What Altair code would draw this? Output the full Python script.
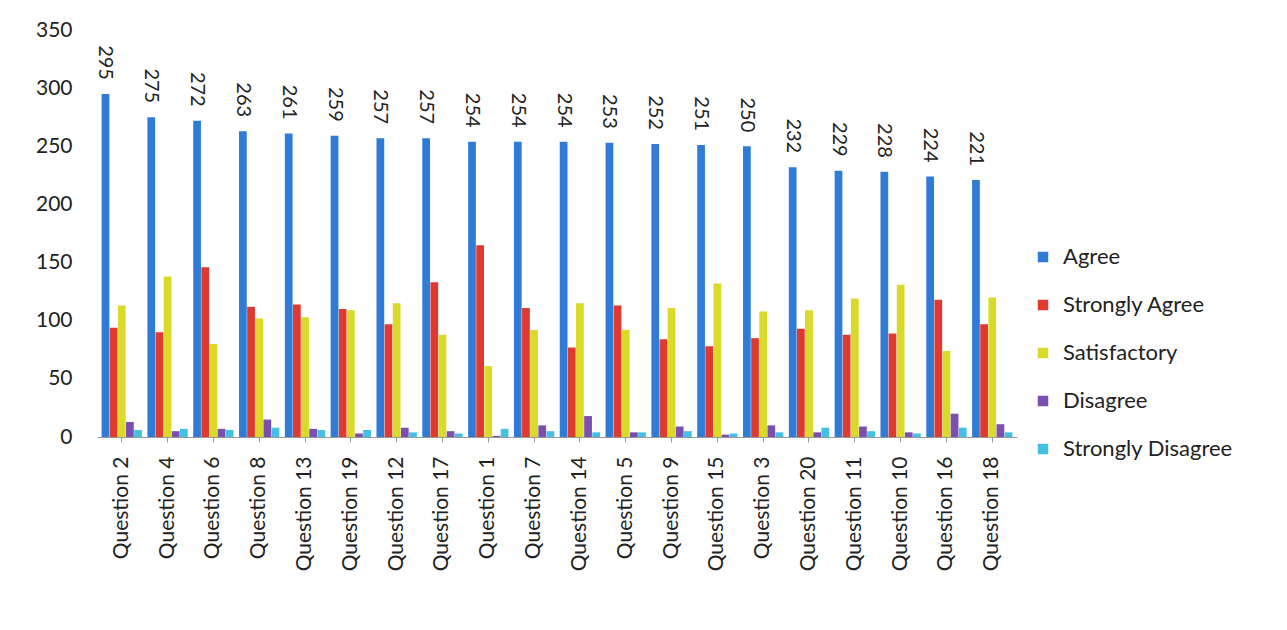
import altair as alt
import pandas as pd

questions = ["Question 2", "Question 4", "Question 6", "Question 8", "Question 13",
             "Question 19", "Question 12", "Question 17", "Question 1", "Question 7",
             "Question 14", "Question 5", "Question 9", "Question 15", "Question 3",
             "Question 20", "Question 11", "Question 10", "Question 16", "Question 18"]
agree = [295, 275, 272, 263, 261, 259, 257, 257, 254, 254, 254, 253, 252, 251, 250, 232, 229, 228, 224, 221]
strongly_agree = [94, 90, 146, 112, 114, 110, 97, 133, 165, 111, 77, 113, 84, 78, 85, 93, 88, 89, 118, 97]
satisfactory = [113, 138, 80, 102, 103, 109, 115, 88, 61, 92, 115, 92, 111, 132, 108, 109, 119, 131, 74, 120]
disagree = [13, 5, 7, 15, 7, 3, 8, 5, 1, 10, 18, 4, 9, 2, 10, 4, 9, 4, 20, 11]
strongly_disagree = [6, 7, 6, 8, 6, 6, 4, 3, 7, 5, 4, 4, 5, 3, 4, 8, 5, 3, 8, 4]

series_names = ["Agree", "Strongly Agree", "Satisfactory", "Disagree", "Strongly Disagree"]
series_colors = ["#2F7BD6", "#E0392F", "#DADA2A", "#7A4FB0", "#45C0E4"]
series_values = [agree, strongly_agree, satisfactory, disagree, strongly_disagree]

rows = []
for name, vals in zip(series_names, series_values):
    for q, v in zip(questions, vals):
        rows.append({"Question": q, "Response": name, "Count": v})
df = pd.DataFrame(rows)
df_agree = df[df["Response"] == "Agree"]

FONT = "Lato"
LEFT, TOP, W, H = 97, 30, 920, 407

x = alt.X("Question:N", sort=questions, title=None,
          scale=alt.Scale(paddingInner=0.12, paddingOuter=0.1),
          axis=alt.Axis(labelAngle=-90, labelFontSize=21, labelColor="#222222",
                        labelFont=FONT, labelPadding=14, tickSize=5, domainColor="#999999",
                        tickColor="#999999", labelAlign="right", labelBaseline="middle"))
y = alt.Y("Count:Q", title=None,
          scale=alt.Scale(domain=[0, 350]),
          axis=alt.Axis(values=[0, 50, 100, 150, 200, 250, 300, 350], grid=False,
                        labelFontSize=21, labelColor="#222222", labelFont=FONT,
                        domain=False, ticks=False, labelPadding=25))
xoff = alt.XOffset("Response:N", sort=series_names, scale=alt.Scale(paddingInner=0.05))

bars = alt.Chart(df).mark_bar().encode(
    x=x, y=y, xOffset=xoff,
    color=alt.Color("Response:N", sort=series_names,
                    scale=alt.Scale(domain=series_names, range=series_colors),
                    legend=alt.Legend(title=None, orient="none", legendX=935, legendY=216,
                                      labelFontSize=22, labelFont=FONT, labelColor="#222222",
                                      labelOffset=9, labelLimit=300,
                                      symbolType="square", symbolSize=110, rowPadding=26,
                                      symbolStrokeWidth=0))
)

labels = alt.Chart(df_agree).mark_text(angle=90, align="right", baseline="middle",
                                       dx=-14, fontSize=20, font=FONT, color="#222222").encode(
    x=alt.X("Question:N", sort=questions),
    xOffset=alt.XOffset("Response:N", sort=series_names),
    y=alt.Y("Count:Q"),
    text=alt.Text("Count:Q")
)

chart = alt.layer(bars, labels).properties(
    width=W, height=H,
    autosize=alt.AutoSizeParams(type="none"),
    padding={"left": LEFT, "top": TOP, "right": 1287 - LEFT - W, "bottom": 630 - TOP - H},
    background="white"
).configure_view(stroke=None)

chart.save("out.html", embed_options={"renderer": "svg", "actions": False})
